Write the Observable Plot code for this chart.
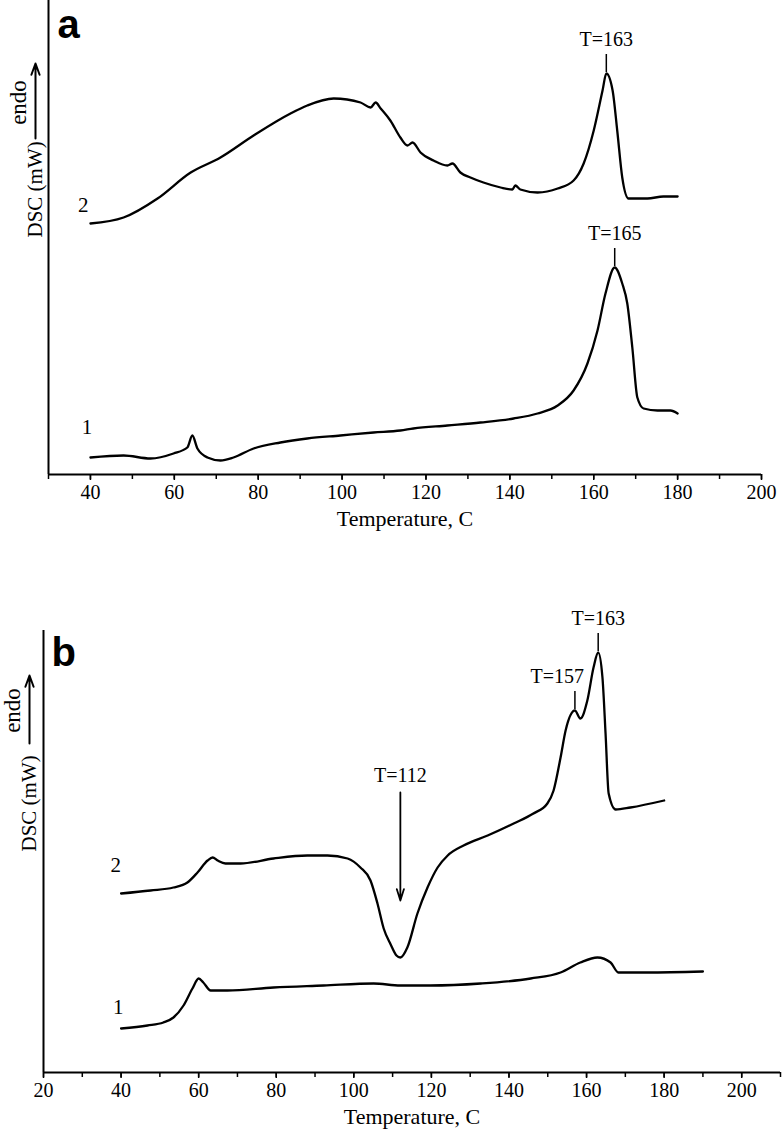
<!DOCTYPE html>
<html>
<head>
<meta charset="utf-8">
<script src="https://cdn.jsdelivr.net/npm/d3@7"></script>
<script src="https://cdn.jsdelivr.net/npm/@observablehq/plot@0.6"></script>
<style>
  body { margin: 0; background: #fff; }
  #chart { width: 783px; }
  #chart svg { display: block; }
</style>
</head>
<body>
<div id="chart"></div>
<script>
// ---------- Panel a data ----------
const aTemp2 = [40,47.9,56,63.9,71,78.9,87.7,91.7,98,104.4,106.8,108,109.2,111.5,113.9,115.6,116.8,118.7,121.8,125.1,126.3,128.2,130.6,133.7,137.8,140.6,141.3,142.5,146.6,151.4,155.2,157.6,160,162.1,163,164.5,165.6,166.8,168.3,172.8,176.6,180];
const aDsc2  = [25.1,25.7,27.6,30.2,31.7,33.9,36.1,36.9,37.6,37.2,36.7,37.2,36.6,35.4,33.7,32.9,33.2,32.2,31.4,30.9,31.1,30.2,29.7,29.2,28.7,28.5,28.9,28.5,28.2,28.6,29.4,31.1,34.4,38.4,40.1,38.4,34.4,29.7,27.6,27.6,27.8,27.8];
const aTemp1 = [40,47.9,54.3,59.8,63.1,64.3,65.5,67.9,71,74.1,78.9,85.3,91.7,99.6,107.5,113.9,117,125.1,133,140.9,146.6,151.4,155.2,158.5,160.9,162.8,165,166.8,168,169.2,170.4,171.9,175.2,178.3,180];
const aDsc1  = [1.7,1.9,1.6,2.1,2.7,3.9,2.6,1.7,1.4,1.7,2.6,3.2,3.6,3.9,4.2,4.4,4.6,4.9,5.2,5.6,6.1,6.9,8.4,11.1,14.4,18.1,20.7,19.1,17.1,12.7,7.7,6.6,6.4,6.4,6.1];
const aPeakTemps  = [163, 165];
const aPeakLabels = ["T=163", "T=165"];
const aTicks = [40,60,80,100,120,140,160,180,200];

// ---------- Panel b data ----------
const bTemp2 = [40,47.6,53.5,57.1,59.7,62.3,63.6,64.9,66.9,70.8,79.3,88,93.2,98.4,101.7,104.3,106.1,107.7,109.5,111,112,113.8,116.4,119,121.6,124.2,128.3,134.5,141.2,146.3,149.9,151.5,153.3,154.6,157,158.4,160.2,161.8,163,164.1,164.9,165.7,167.5,171.3,180];
const bDsc2  = [17.5,17.8,18.1,18.6,19.6,20.8,21.1,20.8,20.5,20.5,21.0,21.3,21.3,21.0,20.1,18.8,16.5,14.0,12.4,11.3,11.1,12.1,15.5,18.1,20.1,21.3,22.3,23.3,24.5,25.5,26.5,27.8,31.1,33.8,35.8,35.0,36.8,40.1,41.6,39.1,33.5,27.5,25.9,26.1,26.8];
const bTemp1 = [40,46.8,50.9,53.5,56.1,58.4,60,61.2,63.1,67.4,79.3,92.2,105.1,112,119.8,132.7,145.6,153.3,158.4,162.8,166.2,168.2,175.7,190];
const bDsc1  = [4.0,4.3,4.6,5.1,6.3,8.0,9.0,8.6,7.8,7.8,8.1,8.3,8.5,8.3,8.3,8.5,9.0,9.6,10.6,11.1,10.6,9.6,9.6,9.7];
const bPeakTemps  = [163, 157];
const bPeakLabels = ["T=163", "T=157"];
const bDipTemp = 112;
const bDipLabel = "T=112";
const bTicks = [20,40,60,80,100,120,140,160,180,200];

const serif = "'Liberation Serif', 'Times New Roman', serif";
const sans = "'Liberation Sans', Arial, sans-serif";

const rows = (t, v) => t.map((x, i) => ({t: x, v: v[i]}));
const valueAt = (t, v, x) => v[t.indexOf(x)];

function panel({xDomain, yDomain, height, marginLeft, marginRight, marginTop, marginBottom,
                majors, series, peaks, extra, letter, letterY, letterDx,
                curveLabels, endoY, endoArrow, endoDx, arrowDx, ylabDx}) {
  const x0 = xDomain[0];
  const marks = [
    Plot.ruleX([x0], {strokeWidth: 2}),
    Plot.ruleY([yDomain[0]], {strokeWidth: 2}),
    Plot.axisX({ticks: d3.range(xDomain[0], xDomain[1] + 1, 10), tickSize: 5, tickFormat: () => "", strokeWidth: 1.5, label: null}),
    Plot.axisX({ticks: majors, tickSize: 6, tickPadding: 4, strokeWidth: 1.5, fontSize: 20, label: null}),
    Plot.text(["Temperature, C"], {frameAnchor: "bottom", dy: 51, fontSize: 22}),
    Plot.text(["DSC (mW)"], {frameAnchor: "left", rotate: -90, dx: ylabDx, fontSize: 21}),
    Plot.text(["endo"], {x: () => x0, y: () => endoY, rotate: -90, dx: endoDx, fontSize: 23}),
    Plot.arrow([0], {x1: x0, x2: x0, y1: endoArrow[0], y2: endoArrow[1], dx: arrowDx, strokeWidth: 2, headLength: 9, headAngle: 40}),
    Plot.text([letter], {x: () => x0, y: () => letterY, dx: letterDx, textAnchor: "start", lineAnchor: "bottom",
                         fontFamily: sans, fontWeight: "bold", fontSize: 40}),
  ];
  for (const s of series) {
    marks.push(Plot.line(rows(s.t, s.v), {x: "t", y: "v", curve: "monotone-x", strokeWidth: 2.3, stroke: "black"}));
  }
  marks.push(Plot.text(curveLabels, {x: "t", y: "v", text: "label", fontSize: 21}));
  const pk = peaks.map(p => ({t: p.t, v: p.v, label: p.label, anchor: p.anchor || "middle", dx: p.dx || 0}));
  marks.push(Plot.ruleX(pk, {x: "t", y1: d => d.v + 0.1, y2: d => d.v + 1.9, strokeWidth: 1.5}));
  for (const p of pk) {
    marks.push(Plot.text([p], {x: "t", y: d => d.v + 3.4, text: "label", textAnchor: p.anchor, dx: p.dx, fontSize: 20}));
  }
  if (extra) marks.push(...extra);
  return Plot.plot({
    width: 783, height, marginLeft, marginRight, marginTop, marginBottom,
    x: {domain: xDomain, axis: null, label: null},
    y: {domain: yDomain, axis: null, label: null},
    style: {fontFamily: serif, fontSize: "20px", background: "white", color: "black", overflow: "visible"},
    marks
  });
}

const chart = document.getElementById("chart");

// Panel a
chart.append(panel({
  xDomain: [30, 200], yDomain: [0, 47.4], height: 548,
  marginLeft: 48, marginRight: 22, marginTop: 0, marginBottom: 74,
  majors: aTicks,
  series: [{t: aTemp2, v: aDsc2}, {t: aTemp1, v: aDsc1}],
  peaks: [
    {t: aPeakTemps[0], v: valueAt(aTemp2, aDsc2, aPeakTemps[0]), label: aPeakLabels[0]},
    {t: aPeakTemps[1], v: valueAt(aTemp1, aDsc1, aPeakTemps[1]), label: aPeakLabels[1]}
  ],
  letter: "a", letterY: 43.7, letterDx: 9,
  curveLabels: [{t: 38.3, v: 26.9, label: "2"}, {t: 39.2, v: 4.7, label: "1"}],
  endoY: 37.2, endoArrow: [33.6, 41.1], endoDx: -30, arrowDx: -13, ylabDx: -13
}));

// Panel b
chart.append(panel({
  xDomain: [20, 210], yDomain: [-0.4, 43.8], height: 586,
  marginLeft: 43, marginRight: 3, marginTop: 82, marginBottom: 62,
  majors: bTicks,
  series: [{t: bTemp2, v: bDsc2}, {t: bTemp1, v: bDsc1}],
  peaks: [
    {t: bPeakTemps[0], v: valueAt(bTemp2, bDsc2, bPeakTemps[0]), label: bPeakLabels[0]},
    {t: bPeakTemps[1], v: valueAt(bTemp2, bDsc2, bPeakTemps[1]), label: bPeakLabels[1], anchor: "end", dx: 9}
  ],
  extra: [
    Plot.arrow([0], {x1: bDipTemp, x2: bDipTemp, y1: 27.6, y2: valueAt(bTemp2, bDsc2, bDipTemp) + 5.7, strokeWidth: 1.8, headLength: 10, headAngle: 35}),
    Plot.text([bDipLabel], {x: () => bDipTemp, y: () => 29.3, fontSize: 20})
  ],
  letter: "b", letterY: 40.3, letterDx: 8,
  curveLabels: [{t: 38.6, v: 20.3, label: "2"}, {t: 39.3, v: 6.1, label: "1"}],
  endoY: 35.8, endoArrow: [32.5, 39.3], endoDx: -31, arrowDx: -14, ylabDx: -14
}));
</script>
</body>
</html>
